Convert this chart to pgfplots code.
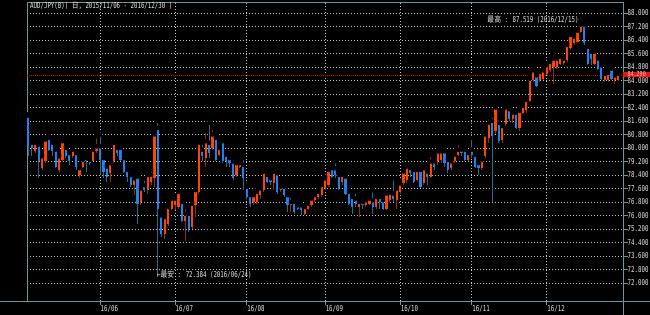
\documentclass[border=0pt]{standalone}
\usepackage{pgfplots}
\usepackage{pgfplotstable}
\pgfplotsset{compat=1.18}
\usepackage{fontspec}
\newfontfamily\tf[FakeStretch=0.72]{DejaVu Sans Mono}
\newfontfamily\cjk[FakeStretch=0.85]{Noto Sans CJK JP}
\definecolor{upb}{RGB}{255,69,0}
\definecolor{dnb}{RGB}{30,130,240}
\definecolor{upw}{RGB}{150,45,10}
\definecolor{dnw}{RGB}{35,110,140}
\definecolor{gridc}{RGB}{195,195,195}
\definecolor{axc}{RGB}{95,155,155}
\definecolor{txt}{RGB}{235,235,235}
\pgfplotstableread{
x o h l c
-21 81.9 82.0 79.5 80.1
-20 80.3 80.5 79.5 80.0
-19 79.8 80.5 79.7 80.3
-18 80.2 80.3 78.2 79.2
-17 78.8 79.6 78.7 79.5
-16 79.2 80.6 79.1 80.5
-15 80.6 80.7 79.8 79.9
-14 80.3 80.4 79.5 79.8
-13 79.9 80.0 78.8 78.9
-12 78.7 79.6 78.6 79.5
-11 79.3 80.5 79.2 80.4
-10 80.0 80.1 79.4 79.5
-9 79.7 79.8 79.0 79.2
-8 79.5 80.0 79.4 79.9
-7 79.7 79.8 78.7 78.9
-6 78.4 79.0 78.2 78.8
-5 78.9 79.4 78.8 79.3
-4 79.4 79.5 78.6 79.2
-3 79.3 79.5 79.0 79.1
-2 79.2 79.95 79.2 79.9
-1 79.8 80.7 79.7 80.1
0 80.1 80.8 78.4 79.3
1 79.4 79.5 78.2 78.6
2 78.9 79.0 78.0 78.3
3 78.5 79.3 78.0 79.1
4 79.2 80.5 79.1 80.3
5 80.0 80.1 79.5 79.7
6 80.0 80.1 79.2 79.3
7 79.4 79.6 78.5 78.6
8 78.7 78.8 78.0 78.3
9 78.4 78.5 77.7 77.8
10 77.8 78.3 77.2 78.2
11 78.3 78.5 75.5 76.7
12 76.8 77.7 76.6 77.6
13 77.8 78.2 77.4 77.5
14 77.5 78.7 77.3 78.4
15 78.0 78.7 77.8 78.4
16 78.2 81.0 77.7 80.8
17 81.2 81.6 72.384 76.4
18 76.0 76.2 74.7 74.9
19 74.9 76.0 74.6 75.9
20 75.5 76.7 75.4 76.5
21 76.4 77.1 76.3 77.0
22 76.6 77.2 76.3 77.0
23 76.5 77.5 76.4 77.4
24 76.8 77.0 75.6 75.7
25 75.7 76.5 74.5 76.1
26 76.1 76.2 75.0 75.2
27 75.3 76.8 75.2 76.7
28 76.6 77.7 75.9 77.5
29 77.4 80.4 77.3 80.3
30 79.9 80.3 79.2 79.5
31 79.4 81.0 78.9 80.4
32 80.3 81.5 79.4 79.7
33 80.0 81.2 79.9 80.8
34 80.6 80.8 79.2 79.3
35 79.6 80.1 79.5 80.0
36 80.4 80.5 79.1 79.2
37 79.6 79.7 78.9 79.2
38 79.4 79.6 78.9 79.1
39 79.2 79.3 78.1 78.2
40 78.4 79.2 78.3 79.1
41 78.9 79.2 78.8 79.1
42 79.0 79.4 77.5 78.2
43 77.7 77.8 77.0 77.1
44 77.2 77.3 76.5 76.7
45 76.8 77.3 76.6 77.2
46 76.8 77.5 76.7 77.4
47 77.2 77.7 77.0 77.6
48 77.5 78.7 77.4 78.6
49 78.4 78.6 77.9 78.0
50 78.2 78.3 77.8 78.0
51 77.9 78.7 77.5 78.6
52 78.5 78.6 77.3 77.4
53 77.5 77.8 77.4 77.7
54 77.7 77.8 77.1 77.2
55 77.2 77.3 76.2 76.6
56 76.6 77.2 76.2 76.8
57 76.8 76.9 76.1 76.2
58 76.6 76.7 76.3 76.4
59 76.6 76.7 76.0 76.3
60 76.1 76.6 76.0 76.5
61 76.4 76.8 76.3 76.7
62 76.6 77.1 76.5 77.0
63 76.9 77.3 76.8 77.2
64 77.1 77.5 77.0 77.4
65 77.2 77.9 77.1 77.8
66 77.6 78.3 77.5 78.2
67 77.8 78.8 77.7 78.7
68 78.8 78.9 78.2 78.3
69 78.8 79.2 78.2 78.4
70 78.4 78.5 77.5 77.6
71 78.0 78.5 77.8 78.4
72 78.3 78.4 77.2 77.3
73 77.4 77.5 76.6 76.7
74 77.1 77.2 76.1 76.5
75 77.0 77.4 76.5 76.7
76 76.5 76.9 75.9 76.8
77 76.8 76.9 76.4 76.6
78 76.6 77.0 76.5 76.9
79 76.7 77.1 76.6 77.0
80 76.9 77.5 76.1 76.5
81 76.5 77.2 76.4 77.1
82 77.1 77.3 76.4 76.8
83 76.9 77.0 76.3 76.4
84 76.4 77.4 76.3 77.3
85 76.9 77.4 76.8 77.35
86 77.3 78.2 76.8 77.0
87 76.9 77.7 76.4 77.6
88 77.4 78.0 77.3 77.9
89 77.9 78.7 77.8 78.6
90 78.1 79.0 77.9 78.9
91 78.8 78.9 78.3 78.5
92 78.7 78.8 77.9 78.0
93 78.1 78.8 78.0 78.7
94 78.7 78.8 77.6 77.7
95 77.9 78.9 77.8 78.8
96 78.6 78.8 77.8 78.3
97 78.3 79.6 78.2 79.2
98 79.2 79.4 78.7 78.9
99 79.2 79.9 79.0 79.8
100 79.3 80.0 79.1 79.8
101 79.8 79.9 78.9 79.1
102 79.3 79.4 78.5 78.7
103 78.8 79.3 78.7 79.2
104 79.2 79.7 79.1 79.6
105 79.6 80.3 79.5 79.9
106 79.9 80.0 79.5 79.7
107 79.9 80.0 79.2 79.3
108 79.3 79.8 79.2 79.7
109 79.9 80.6 79.4 79.6
110 79.6 79.7 78.8 78.9
111 79.1 79.3 78.4 78.8
112 78.8 79.4 78.7 79.3
113 79.5 80.9 79.4 80.8
114 80.6 81.8 80.3 81.5
115 81.6 81.9 76.8 80.7
116 81.0 82.5 80.8 82.4
117 81.5 81.8 80.3 80.4
118 80.5 81.4 80.3 81.3
119 81.4 82.5 81.3 82.4
120 82.3 82.5 81.6 81.7
121 81.7 82.2 81.5 82.1
122 82.1 82.2 81.1 81.2
123 81.2 82.3 81.0 82.2
124 82.1 82.6 82.0 82.5
125 82.25 82.95 82.1 82.85
126 82.8 84.2 82.7 84.1
127 84.0 84.7 83.9 84.6
128 84.3 84.4 83.6 83.7
129 84.0 84.6 83.9 84.5
130 84.1 84.7 84.0 84.6
131 84.4 85.0 84.3 84.9
132 84.6 85.2 84.5 85.1
133 84.8 85.6 83.8 85.3
134 84.8 85.4 84.7 85.3
135 85.0 85.5 84.9 85.4
136 85.05 85.4 84.9 85.3
137 85.2 86.2 85.1 86.1
138 85.9 86.8 85.8 86.7
139 86.2 86.7 86.1 86.6
140 86.3 87.0 86.2 86.95
141 86.9 87.519 86.8 87.3
142 87.3 87.4 86.1 86.2
143 86.0 86.1 84.9 85.0
144 85.7 85.8 84.9 85.3
145 85.0 85.8 84.9 85.7
146 85.3 85.4 84.6 84.7
147 84.9 85.0 84.0 84.1
148 84.05 84.5 83.9 84.4
149 84.0 84.7 83.9 84.45
150 84.7 84.9 84.0 84.1
151 84.0 84.4 83.8 84.3
152 84.05 84.55 83.95 84.4
}\candles
\begin{document}
\begin{tikzpicture}
\fill[black] (-27pt,-14pt) rectangle (623pt,301pt);
\begin{axis}[
  at={(0,0)}, anchor=south west,
  scale only axis, width=596pt, height=299pt,
  xmin=-21.41, xmax=153.37, ymin=70.933, ymax=88.652,
  axis line style={axc, line width=0.8pt},
  xtick={0,22,43,66,88,109,131},
  xticklabels={16/06,16/07,16/08,16/09,16/10,16/11,16/12},
  ytick={72,72.8,73.6,74.4,75.2,76,76.8,77.6,78.4,79.2,80,80.8,81.6,82.4,83.2,84,84.8,85.6,86.4,87.2,88},
  yticklabels={72.000,72.800,73.600,74.400,75.200,76.000,76.800,77.600,78.400,79.200,80.000,80.800,81.600,82.400,83.200,84.000,84.800,85.600,86.400,87.200,88.000},
  xtick pos=bottom, ytick pos=right, yticklabel pos=right,
  tick align=outside, major tick length=4.5pt,
  tick style={axc, line width=0.8pt},
  grid=major,
  major grid style={gridc, line width=0.6pt, dash pattern=on 1pt off 2pt},
  xticklabel style={font=\tf\fontsize{8}{9}\selectfont, text=txt, anchor=north west, inner sep=0pt, xshift=0.5pt},
  yticklabel style={font=\tf\fontsize{8}{9}\selectfont, text=txt, anchor=west, inner sep=0pt},
]
\addplot[red!85!black, line width=0.6pt, dash pattern=on 1pt off 1pt, forget plot] coordinates {(-21.41,84.3) (153.37,84.3)};
% wicks
\addplot[only marks, mark=none, forget plot,
  error bars/.cd, y dir=minus, y explicit, error mark=none,
  error bar style={draw=upw, line width=1pt}]
  table[x=x, y expr={\thisrow{c}>=\thisrow{o} ? \thisrow{h} : nan}, y error minus expr={\thisrow{h}-\thisrow{l}}] {\candles};
\addplot[only marks, mark=none, forget plot,
  error bars/.cd, y dir=minus, y explicit, error mark=none,
  error bar style={draw=dnw, line width=1pt}]
  table[x=x, y expr={\thisrow{c}<\thisrow{o} ? \thisrow{h} : nan}, y error minus expr={\thisrow{h}-\thisrow{l}}] {\candles};
% bodies
\addplot[only marks, mark=none, forget plot,
  error bars/.cd, y dir=minus, y explicit, error mark=none,
  error bar style={draw=upb, line width=2.2pt}]
  table[x=x, y expr={\thisrow{c}>=\thisrow{o} ? \thisrow{c} : nan}, y error minus expr={\thisrow{c}-\thisrow{o}}] {\candles};
\addplot[only marks, mark=none, forget plot,
  error bars/.cd, y dir=minus, y explicit, error mark=none,
  error bar style={draw=dnb, line width=2.2pt}]
  table[x=x, y expr={\thisrow{c}<\thisrow{o} ? \thisrow{o} : nan}, y error minus expr={\thisrow{o}-\thisrow{c}}] {\candles};
\node[anchor=west, text=txt, font=\tf\fontsize{8}{9}\selectfont, inner sep=0pt] at (rel axis cs:0.005,0.986) {AUD/JPY(B)( {\cjk 日}, 2015/11/06 - 2016/12/30 )};
\node[anchor=west, text=txt, font=\tf\fontsize{8}{9}\selectfont, inner sep=0pt] at (axis cs:16.7,72.47) {←{\cjk 最安} : 72.384 (2016/06/24)};
\node[anchor=east, text=txt, font=\tf\fontsize{8}{9}\selectfont, inner sep=0pt] at (axis cs:141.4,87.58) {{\cjk 最高} : 87.519 (2016/12/15)→};
\coordinate (pl) at (axis cs:153.37,84.3);
\end{axis}
\draw[axc, line width=0.8pt] (-27pt,0) -- (623pt,0);
\draw[axc, line width=0.8pt] (596pt,0) -- (596pt,-14pt);
\node[fill={rgb,255:red,235;green,20;blue,20}, text={rgb,255:red,255;green,205;blue,205}, anchor=west, inner sep=0pt, minimum width=27pt, minimum height=5.2pt, yshift=1.2pt, font=\tf\fontsize{7}{8}\selectfont] at (pl) {84.290};
\pgfresetboundingbox
\useasboundingbox (-27pt,-14pt) rectangle (623pt,301pt);
\end{tikzpicture}
\end{document}
